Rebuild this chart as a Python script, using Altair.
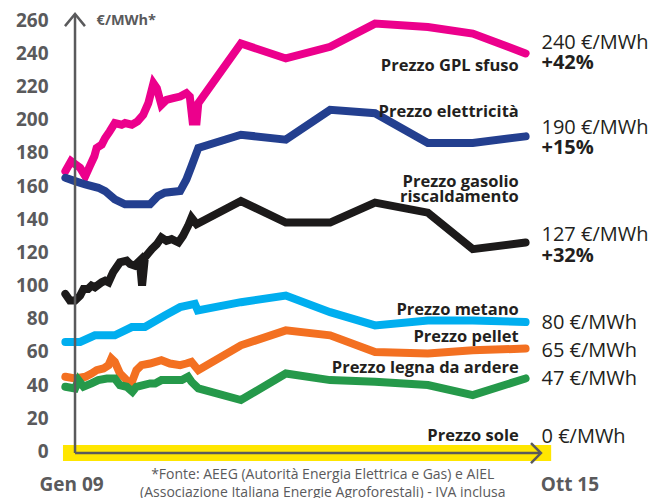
import altair as alt
import pandas as pd

# x = months since Jan 2009 (Gen 09 = 0, Ott 15 = 81); y = €/MWh
gpl_t = [0, 1, 1.8, 2.6, 3.5, 4.3, 5.1, 5.5, 6.4, 7, 7.8, 8.7, 9.9, 10.5, 11.7, 12.7, 13.7, 14.6, 15.5, 16.1,
         16.9, 17.8, 19, 20.2, 21.3, 21.9, 22.4, 23.1, 23.4, 30.9, 38.8, 46.6, 54.5, 63.8, 71.7, 81]
gpl_v = [169, 175, 173, 171, 166, 172, 178, 183, 185, 189, 193, 198, 197, 198, 197, 199, 203, 210, 222, 219,
         209, 212, 213, 214, 216, 214, 199, 199, 210, 246, 237, 244, 258, 256, 252, 240]

ele_t = [0, 1.7, 3.5, 5.8, 7, 8.7, 10.5, 14.9, 16.3, 17.5, 20.2, 21.3, 22.2, 23.4, 30.9, 38.8, 46.6, 54.5, 63.8, 71.7, 81]
ele_v = [165, 163, 161, 159, 157, 152, 149, 149, 154, 156, 157, 164, 172, 183, 191, 188, 206, 204, 186, 186, 190]

gas_t = [0, 0.8, 1.7, 2.6, 3.2, 4, 4.6, 5.2, 6.4, 7, 7.6, 8.4, 9.6, 10.8, 11.4, 12.2, 13.1, 13.5, 14, 15.2,
         16.1, 16.9, 17.8, 18.7, 19.9, 20.7, 21.6, 22.2, 23.1, 30.9, 38.8, 46.6, 54.5, 63.8, 71.7, 81]
gas_v = [95, 91, 91, 94, 98, 98, 100, 99, 102, 103, 102, 108, 114, 115, 113, 112, 115, 100, 117, 122,
         125, 129, 127, 128, 126, 130, 136, 141, 137, 151, 138, 138, 150, 144, 122, 126]

met_t = [0, 2.6, 5.2, 8.7, 11.7, 14, 17.5, 20.2, 22.8, 23.3, 30.9, 38.8, 46.6, 54.5, 63.8, 71.7, 81]
met_v = [66, 66, 70, 70, 75, 75, 82, 87, 89, 85, 90, 94, 84, 76, 79, 79, 78]

pel_t = [0, 1.7, 3.5, 4.6, 5.5, 6.7, 7.6, 8.1, 8.7, 9.6, 10.5, 11.5, 12.5, 13.4, 14.9, 16.9, 18.4, 20.2, 21.3, 22.2,
         23.4, 30.9, 38.8, 46.6, 54.5, 63.8, 71.7, 81]
pel_v = [45, 44, 45, 47, 49, 50, 52, 56, 54, 47, 44, 40, 49, 52, 53, 55, 53, 52, 53, 54,
         49, 64, 73, 70, 60, 59, 61, 62]

leg_t = [0, 1.7, 2.3, 3.2, 4.6, 5.8, 7.3, 8.7, 9.6, 10.8, 11.8, 12.5, 13.7, 14.9, 15.8, 16.9, 18.4, 20.5, 21.6, 22.2,
         23.4, 30.9, 38.8, 46.6, 54.5, 63.8, 71.7, 81]
leg_v = [39, 38, 43, 39, 41, 43, 44, 44, 40, 39, 36, 39, 40, 41, 41, 43, 43, 43, 45, 42,
         38, 31, 47, 43, 42, 40, 34, 44]

series_names = ["GPL", "elettricità", "gasolio", "metano", "pellet", "legna"]
series_colors = ["#EC008C", "#233F8F", "#1C1A1A", "#00AEEF", "#F37021", "#25994A"]
series_data = [(gpl_t, gpl_v), (ele_t, ele_v), (gas_t, gas_v), (met_t, met_v), (pel_t, pel_v), (leg_t, leg_v)]

# series name labels (annotation positions in data units)
name_text = ["Prezzo GPL sfuso", "Prezzo elettricità", "Prezzo gasolio", "riscaldamento",
             "Prezzo metano", "Prezzo pellet", "Prezzo legna da ardere", "Prezzo sole"]
name_v = [232.4, 204.9, 162.7, 153.6, 85.3, 69.0, 50.3, 9.5]

value_text = ["240 €/MWh", "190 €/MWh", "127 €/MWh", "80 €/MWh", "65 €/MWh", "47 €/MWh", "0 €/MWh"]
value_v = [246.3, 195.2, 130.5, 77.3, 60.6, 43.5, 8.9]
pct_text = ["+42%", "+15%", "+32%"]
pct_v = [234.3, 183.2, 117.9]

y_ticks = list(range(0, 261, 20))
x_labels = ["Gen 09", "Ott 15"]
x_label_t = [1.1, 88.8]
footnote = ["*Fonte: AEEG (Autorità Energia Elettrica e Gas) e AIEL",
            "(Associazione Italiana Energie Agroforestali) - IVA inclusa"]

rows = []
for name, (ts, vs) in zip(series_names, series_data):
    for i, (t, v) in enumerate(zip(ts, vs)):
        rows.append({"serie": name, "t": t, "v": v, "ord": i})
df = pd.DataFrame(rows)

FONT = "Open Sans"
GRAY = "#5A5A5C"
DARK = "#231F20"

xs = alt.Scale(domain=[-2, 86], nice=False, zero=False)
ys = alt.Scale(domain=[-10, 265], nice=False, zero=False)
yaxis = alt.Axis(values=y_ticks, ticks=False, domain=False, grid=False,
                 labelFont=FONT, labelFontWeight="bold", labelFontSize=19,
                 labelColor=GRAY, labelPadding=6, labelOverlap=False, title=None)

def X(f="t"):
    return alt.X(f"{f}:Q", scale=xs, axis=None)

def Y(f="v"):
    return alt.Y(f"{f}:Q", scale=ys, axis=yaxis)

# yellow "sole" band
band = alt.Chart(pd.DataFrame({"t": [-0.42], "t2": [85.5], "v": [-1]})).mark_rule(
    color="#FFE600", strokeWidth=16, strokeCap="butt").encode(x=X(), x2="t2:Q", y=Y())

lines = alt.Chart(df).mark_line(strokeWidth=8, strokeCap="round", strokeJoin="miter").encode(
    x=X(), y=Y(),
    color=alt.Color("serie:N", scale=alt.Scale(domain=series_names, range=series_colors), legend=None),
    order="ord:Q")

# axes with arrows
vaxis = alt.Chart(pd.DataFrame({"t": [1.7], "v": [-1], "v2": [263.8]})).mark_rule(
    color=GRAY, strokeWidth=2.5).encode(x=X(), y=Y(), y2="v2:Q")
haxis = alt.Chart(pd.DataFrame({"t": [1.7], "t2": [83.7], "v": [-1]})).mark_rule(
    color=GRAY, strokeWidth=2.5).encode(x=X(), x2="t2:Q", y=Y())
arrows = pd.DataFrame({
    "g": ["up", "up", "up", "right", "right", "right"],
    "o": [0, 1, 2, 0, 1, 2],
    "t": [-0.07, 1.7, 3.45, 81.95, 83.7, 81.95],
    "v": [256.5, 263.8, 256.5, 5.0, -1.0, -7.0],
})
arrow = alt.Chart(arrows).mark_line(color=GRAY, strokeWidth=2.5).encode(
    x=X(), y=Y(), detail="g:N", order="o:Q")

names_df = pd.DataFrame({"txt": name_text, "v": name_v, "t": [79.8] * len(name_text)})
names = alt.Chart(names_df).mark_text(font=FONT, fontWeight="bold", fontSize=16.5, color=DARK,
                                      align="right", baseline="middle").encode(x=X(), y=Y(), text="txt:N")

vals_df = pd.DataFrame({"txt": value_text, "v": value_v, "t": [83.8] * len(value_text)})
vals = alt.Chart(vals_df).mark_text(font=FONT, fontSize=20, color=DARK, align="left",
                                    baseline="middle").encode(x=X(), y=Y(), text="txt:N")
pct_df = pd.DataFrame({"txt": pct_text, "v": pct_v, "t": [83.8] * len(pct_text)})
pcts = alt.Chart(pct_df).mark_text(font=FONT, fontWeight="bold", fontSize=20, color=DARK, align="left",
                                   baseline="middle").encode(x=X(), y=Y(), text="txt:N")

unit = alt.Chart(pd.DataFrame({"txt": ["€/MWh*"], "t": [5.5], "v": [259.8]})).mark_text(
    font=FONT, fontWeight="bold", fontSize=14.5, color=GRAY, align="left", baseline="middle").encode(
    x=X(), y=Y(), text="txt:N")

xl = alt.Chart(pd.DataFrame({"txt": x_labels, "t": x_label_t, "v": [-20.3, -20.3]})).mark_text(
    font=FONT, fontWeight="bold", fontSize=19, color=GRAY, align="center", baseline="middle").encode(
    x=X(), y=Y(), text="txt:N")

foot = alt.Chart(pd.DataFrame({"txt": footnote, "t": [45.3, 45.3], "v": [-14.2, -25.1]})).mark_text(
    font=FONT, fontSize=14, color=GRAY, align="center", baseline="middle").encode(
    x=X(), y=Y(), text="txt:N")

chart = alt.layer(band, lines, vaxis, haxis, arrow, names, vals, pcts, unit, xl, foot).properties(
    width=500, height=456,
    padding={"left": 46, "top": 4, "right": 106, "bottom": 30},
    autosize=alt.AutoSizeParams(type="none"),
).configure_view(stroke=None)

chart.save("out.html", embed_options={"renderer": "svg", "actions": False})
